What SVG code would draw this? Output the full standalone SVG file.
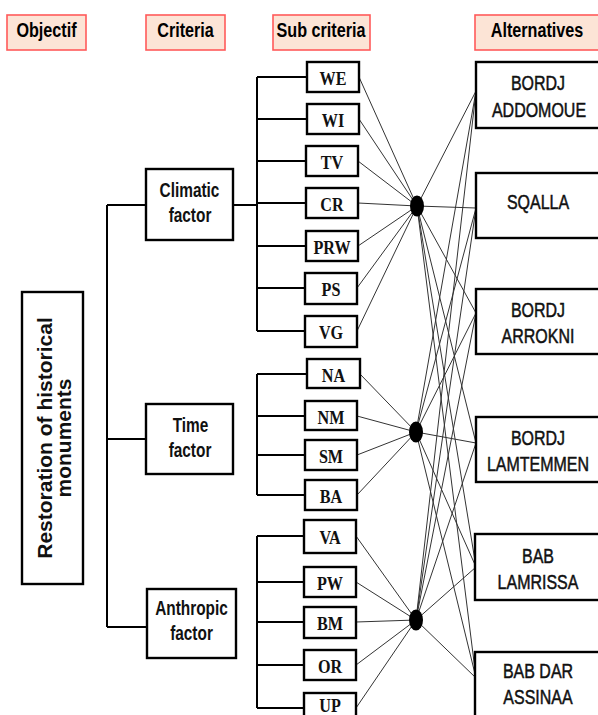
<svg xmlns="http://www.w3.org/2000/svg" width="598" height="715" viewBox="0 0 598 715">
<style>
.hdr{fill:#fce4d6;stroke:#ff5a5a;stroke-width:1.6}
.ht{font-family:"Liberation Sans",Arial,sans-serif;font-weight:bold;font-size:21px;fill:#000;text-anchor:middle}
.box{fill:#fff;stroke:#000;stroke-width:2.4}
.ct{font-family:"Liberation Sans",Arial,sans-serif;font-weight:bold;font-size:20px;fill:#111;text-anchor:middle}
.at{font-family:"Liberation Sans",Arial,sans-serif;font-size:20.5px;fill:#111;stroke:#111;stroke-width:0.5;text-anchor:middle}
.st{font-family:"Liberation Serif","Times New Roman",serif;font-weight:bold;font-size:19px;fill:#111;text-anchor:middle}
.tree{fill:none;stroke:#000;stroke-width:2}
.thin{fill:none;stroke:#333;stroke-width:1}
</style>
<rect width="598" height="715" fill="#fff"/>

<g id="headers">
<g id="h-objectif"><rect class="hdr" x="7" y="15" width="79" height="35"/><text class="ht" transform="translate(46.5,37) scale(0.77,1)">Objectif</text></g>
<g id="h-criteria"><rect class="hdr" x="146" y="15" width="79" height="35"/><text class="ht" transform="translate(185.5,37) scale(0.77,1)">Criteria</text></g>
<g id="h-sub"><rect class="hdr" x="273" y="15" width="97" height="35"/><text class="ht" transform="translate(321,37) scale(0.77,1)">Sub criteria</text></g>
<g id="h-alt"><rect class="hdr" x="475" y="15" width="130" height="35"/><text class="ht" transform="translate(537,37) scale(0.77,1)">Alternatives</text></g>
</g>

<g id="connectors">
<g id="tree-lines" class="tree">
<path d="M107,205 V627 M107,205 H146 M107,439 H146 M107,627 H147"/>
<path d="M233,205 H257 M257,77 V331 M257,77 H307 M257,119 H307 M257,161 H306 M257,203 H306 M257,246 H306 M257,288 H305 M257,331 H305"/>
<path d="M257,374 V495 M257,374 H307 M257,416 H305 M257,455 H305 M257,495 H305"/>
<path d="M257,536 V708 M257,536 H304 M257,582 H304 M257,622 H304 M257,665 H304 M257,708 H304"/>
</g>
<g id="sub-to-hub" class="thin">
<path d="M359,77 L417,206 M359,119 L417,206 M358,161 L417,206 M358,203 L417,206 M358,246 L417,206 M357,288 L417,206 M357,331 L417,206"/>
<path d="M360,374 L416,432 M357,416 L416,432 M357,455 L416,432 M357,495 L416,432"/>
<path d="M356,536 L416,620 M356,582 L416,620 M356,622 L416,620 M356,665 L416,620 M356,708 L416,620"/>
</g>
<g id="hub-to-alt" class="thin">
<path d="M417,206 L476,91 M417,206 L476,208 M417,206 L476,313 M417,206 L476,443 M417,206 L476,567 M417,206 L476,678"/>
<path d="M416,432 L476,91 M416,432 L476,208 M416,432 L476,313 M416,432 L476,443 M416,432 L476,567 M416,432 L476,678"/>
<path d="M416,620 L476,91 M416,620 L476,208 M416,620 L476,313 M416,620 L476,443 M416,620 L476,567 M416,620 L476,678"/>
</g>
</g>

<g id="objective"><rect class="box" x="22" y="292" width="61" height="292"/>
<text class="ct" style="font-size:21px" transform="translate(52,438) rotate(-90)"><tspan x="0" y="0">Restoration of historical</tspan><tspan x="0" y="19">monuments</tspan></text></g>

<g id="climatic"><rect class="box" x="146" y="169" width="87" height="71"/><text class="ct" transform="translate(189.5,197) scale(0.77,1)">Climatic</text><text class="ct" transform="translate(190,222) scale(0.77,1)">factor</text></g>
<g id="time"><rect class="box" x="146" y="404" width="87" height="70"/><text class="ct" transform="translate(190.5,432) scale(0.77,1)">Time</text><text class="ct" transform="translate(190,457) scale(0.77,1)">factor</text></g>
<g id="anthropic"><rect class="box" x="147" y="589" width="89" height="69"/><text class="ct" transform="translate(191.5,615) scale(0.77,1)">Anthropic</text><text class="ct" transform="translate(191.5,640) scale(0.77,1)">factor</text></g>

<g id="sc-WE"><rect class="box" x="307" y="62" width="52" height="30"/><text class="st" transform="translate(333,85) scale(0.85,1)">WE</text></g>
<g id="sc-WI"><rect class="box" x="307" y="104" width="52" height="30"/><text class="st" transform="translate(333,127) scale(0.85,1)">WI</text></g>
<g id="sc-TV"><rect class="box" x="306" y="146" width="52" height="30"/><text class="st" transform="translate(332,169) scale(0.85,1)">TV</text></g>
<g id="sc-CR"><rect class="box" x="306" y="188" width="52" height="30"/><text class="st" transform="translate(332,211) scale(0.85,1)">CR</text></g>
<g id="sc-PRW"><rect class="box" x="306" y="231" width="52" height="30"/><text class="st" transform="translate(332,254) scale(0.85,1)">PRW</text></g>
<g id="sc-PS"><rect class="box" x="305" y="273" width="52" height="31"/><text class="st" transform="translate(331,296) scale(0.85,1)">PS</text></g>
<g id="sc-VG"><rect class="box" x="305" y="316" width="52" height="31"/><text class="st" transform="translate(331,339) scale(0.85,1)">VG</text></g>
<g id="sc-NA"><rect class="box" x="307" y="359" width="53" height="29"/><text class="st" transform="translate(333.5,382) scale(0.85,1)">NA</text></g>
<g id="sc-NM"><rect class="box" x="305" y="401" width="52" height="29"/><text class="st" transform="translate(331,424) scale(0.85,1)">NM</text></g>
<g id="sc-SM"><rect class="box" x="305" y="440" width="52" height="30"/><text class="st" transform="translate(331,463) scale(0.85,1)">SM</text></g>
<g id="sc-BA"><rect class="box" x="305" y="480" width="52" height="30"/><text class="st" transform="translate(331,503) scale(0.85,1)">BA</text></g>
<g id="sc-VA"><rect class="box" x="304" y="520" width="52" height="33"/><text class="st" transform="translate(330,544) scale(0.85,1)">VA</text></g>
<g id="sc-PW"><rect class="box" x="304" y="567" width="52" height="30"/><text class="st" transform="translate(330,590) scale(0.85,1)">PW</text></g>
<g id="sc-BM"><rect class="box" x="304" y="607" width="52" height="31"/><text class="st" transform="translate(330,630) scale(0.85,1)">BM</text></g>
<g id="sc-OR"><rect class="box" x="304" y="650" width="52" height="30"/><text class="st" transform="translate(330,673) scale(0.85,1)">OR</text></g>
<g id="sc-UP"><rect class="box" x="304" y="693" width="52" height="30"/><text class="st" transform="translate(330,712) scale(0.85,1)">UP</text></g>

<g id="hubs" fill="#000">
<ellipse id="hub1" cx="417" cy="206" rx="7" ry="10.5"/>
<ellipse id="hub2" cx="416" cy="432" rx="7" ry="10.5"/>
<ellipse id="hub3" cx="416" cy="620" rx="7" ry="10.5"/>
</g>

<g id="alt1"><rect class="box" x="476" y="62" width="130" height="66"/><text class="at" transform="translate(538,90) scale(0.78,1)">BORDJ</text><text class="at" transform="translate(539,117) scale(0.78,1)">ADDOMOUE</text></g>
<g id="alt2"><rect class="box" x="476" y="173" width="130" height="65"/><text class="at" transform="translate(538,209) scale(0.78,1)">SQALLA</text></g>
<g id="alt3"><rect class="box" x="476" y="289" width="130" height="65"/><text class="at" transform="translate(538,317) scale(0.78,1)">BORDJ</text><text class="at" transform="translate(538,343) scale(0.78,1)">ARROKNI</text></g>
<g id="alt4"><rect class="box" x="476" y="417" width="130" height="65"/><text class="at" transform="translate(538,445) scale(0.78,1)">BORDJ</text><text class="at" transform="translate(538,471) scale(0.78,1)">LAMTEMMEN</text></g>
<g id="alt5"><rect class="box" x="475" y="534" width="130" height="66"/><text class="at" transform="translate(538,563) scale(0.78,1)">BAB</text><text class="at" transform="translate(538,589) scale(0.78,1)">LAMRISSA</text></g>
<g id="alt6"><rect class="box" x="475" y="652" width="130" height="80"/><text class="at" transform="translate(538,678) scale(0.78,1)">BAB DAR</text><text class="at" transform="translate(538,704) scale(0.78,1)">ASSINAA</text></g>
</svg>
